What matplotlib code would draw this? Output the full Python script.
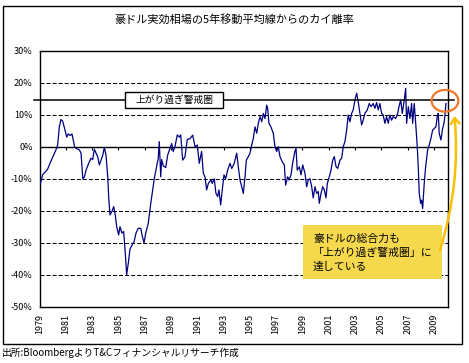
import matplotlib
matplotlib.use("Agg")
import matplotlib.pyplot as plt
from matplotlib.patches import Rectangle, Ellipse, FancyArrowPatch

plt.rcParams['font.family'] = ['Noto Sans CJK JP', 'DejaVu Sans']

# deviation of AUD effective rate from its 5y moving average (%)
dates = [
    1979.04, 1979.24, 1979.62, 1979.87, 1980.25, 1980.38, 1980.51, 1980.63, 1980.76, 1980.89,
    1981.07, 1981.19, 1981.34, 1981.47, 1981.57, 1981.68, 1981.83, 1982.03, 1982.16, 1982.29,
    1982.41, 1982.54, 1982.74, 1982.92, 1983.05, 1983.17, 1983.30, 1983.43, 1983.55, 1983.68,
    1983.81, 1983.93, 1984.06, 1984.19, 1984.26, 1984.36, 1984.51, 1984.64, 1984.76, 1984.87,
    1985.02, 1985.12, 1985.27, 1985.40, 1985.52, 1985.63, 1985.75, 1985.88, 1986.01, 1986.19,
    1986.34, 1986.51, 1986.70, 1986.82, 1986.95, 1987.08, 1987.27, 1987.46, 1987.61, 1987.73,
    1987.91, 1988.03, 1988.11, 1988.22, 1988.29, 1988.41, 1988.60, 1988.75, 1988.92, 1989.05,
    1989.17, 1989.30, 1989.48, 1989.63, 1989.74, 1989.89, 1990.06, 1990.24, 1990.44, 1990.65,
    1990.83, 1991.00, 1991.15, 1991.33, 1991.46, 1991.59, 1991.71, 1991.84, 1992.04, 1992.14,
    1992.29, 1992.42, 1992.55, 1992.65, 1992.78, 1992.90, 1993.03, 1993.16, 1993.31, 1993.49,
    1993.62, 1993.81, 1994.00, 1994.12, 1994.25, 1994.38, 1994.50, 1994.63, 1994.73, 1994.88,
    1995.01, 1995.14, 1995.26, 1995.39, 1995.52, 1995.64, 1995.77, 1995.90, 1996.02, 1996.15,
    1996.28, 1996.35, 1996.45, 1996.60, 1996.78, 1996.91, 1997.04, 1997.16, 1997.29, 1997.46,
    1997.62, 1997.72, 1997.87, 1997.97, 1998.13, 1998.25, 1998.42, 1998.51, 1998.60, 1998.76,
    1998.89, 1999.02, 1999.19, 1999.32, 1999.44, 1999.57, 1999.70, 1999.82, 1999.95, 2000.08,
    2000.20, 2000.28, 2000.41, 2000.54, 2000.66, 2000.79, 2000.89, 2001.04, 2001.17, 2001.30,
    2001.42, 2001.55, 2001.68, 2001.85, 2001.98, 2002.10, 2002.23, 2002.36, 2002.48, 2002.61,
    2002.74, 2002.86, 2002.99, 2003.12, 2003.24, 2003.37, 2003.50, 2003.62, 2003.75, 2003.93,
    2004.08, 2004.21, 2004.38, 2004.51, 2004.64, 2004.76, 2004.89, 2005.02, 2005.14, 2005.27,
    2005.40, 2005.52, 2005.65, 2005.78, 2005.90, 2006.09, 2006.24, 2006.34, 2006.47, 2006.59,
    2006.74, 2006.85, 2006.92, 2007.05, 2007.17, 2007.30, 2007.38, 2007.50, 2007.61, 2007.73,
    2007.81, 2007.88, 2007.99, 2008.06, 2008.14, 2008.26, 2008.37, 2008.52, 2008.64, 2008.77,
    2008.90, 2009.02, 2009.15, 2009.25, 2009.33, 2009.40, 2009.53, 2009.66, 2009.76, 2009.84,
    2009.91,
]
deviation = [
    -11.8, -8.8, -7.0, -4.5, -1.0, 0.5, 6.2, 8.5, 8.0, 6.0,
    3.0, 4.0, 3.5, 4.0, 2.0, -0.2, -0.6, -1.0, -2.0, -10.0,
    -9.5, -7.3, -5.2, -3.6, -4.0, -0.8, -2.0, -3.2, -5.7, -4.2,
    -2.7, -0.2, -2.7, -9.4, -15.6, -21.3, -20.3, -18.7, -21.3, -25.0,
    -27.6, -25.0, -27.0, -26.5, -33.0, -40.0, -36.5, -32.0, -31.0, -29.7,
    -27.0, -25.5, -25.5, -28.0, -30.0, -27.0, -24.0, -17.7, -13.5, -9.9,
    -6.2, -3.6, 1.6, -9.4, -4.0, -6.0, -6.5, -2.6, -0.5, 1.0,
    -1.5, 0.0, 3.7, 3.0, 3.7, -4.2, -3.2, 2.3, 2.5, 3.6,
    0.0, 0.5, -5.2, -1.5, -8.3, -9.5, -13.5, -11.5, -10.4, -11.5,
    -10.0, -14.6, -15.6, -13.5, -18.2, -13.5, -8.8, -10.0, -7.3, -5.2,
    -6.8, -5.2, -2.0, -6.3, -10.4, -12.5, -14.6, -9.4, -4.2, -3.1,
    -2.0, 0.5, 2.6, 6.2, 4.2, 7.3, 9.4, 7.8, 10.4, 8.8,
    13.0, 12.0, 7.3, 6.2, 4.2, 0.0, -1.5, 0.0, -3.1, -4.7,
    -5.7, -12.0, -9.4, -10.4, -8.8, -5.2, -1.5, -0.5, -7.3, -6.3,
    -8.8, -5.7, -8.3, -12.5, -10.4, -10.0, -12.5, -16.0, -12.5, -14.6,
    -14.0, -17.7, -14.6, -12.5, -13.5, -16.0, -11.5, -9.4, -7.3, -4.2,
    -3.1, -6.2, -6.8, -4.2, -3.6, 0.0, 1.6, 5.2, 9.9, 7.8,
    10.4, 11.5, 14.6, 16.7, 14.0, 10.4, 6.8, 8.3, 10.4, 11.5,
    13.5, 12.5, 13.5, 12.0, 13.8, 11.5, 13.5, 10.4, 9.9, 7.3,
    9.4, 7.3, 9.9, 8.3, 9.4, 8.8, 10.4, 12.5, 14.6, 10.4,
    14.6, 18.2, 7.3, 12.5, 8.8, 13.5, 7.3, 13.5, 7.3, 0.0,
    -6.8, -14.6, -17.7, -16.7, -19.3, -11.5, -6.2, -1.0, 0.5, 2.6,
    5.2, 5.7, 6.2, 9.4, 10.4, 4.2, 2.1, 5.7, 7.3, 9.9,
    13.5,
]

tick_years = list(range(1979, 2010, 2))
y_ticks = [-50, -40, -30, -20, -10, 0, 10, 20, 30]
grid_levels = [-40, -30, -20, -10, 10, 20]
warning_level = 14.5

title = '豪ドル実効相場の5年移動平均線からのカイ離率'
warning_label = '上がり過ぎ警戒圏'
note_lines = ['豪ドルの総合力も', '「上がり過ぎ警戒圏」に', '達している']
source = '出所:BloombergよりT&Cフィナンシャルリサーチ作成'

W, H = 469, 363
fig = plt.figure(figsize=(W / 100, H / 100), dpi=100)
ax = fig.add_axes([39.5 / W, 56.3 / H, 408 / W, 256 / H])

# outer chart frame
fig.add_artist(Rectangle((3 / W, 19 / H), 458.7 / W, 338.3 / H, transform=fig.transFigure,
                         fill=False, ec='black', lw=1))

fig.text(234 / W, 1 - 19 / H, title, ha='center', va='center', fontsize=8)
fig.text(2 / W, 1 - 353 / H, source, ha='left', va='center', fontsize=7)

for lv in grid_levels:
    ax.axhline(lv, color='black', lw=0.75, linestyle=(0, (3.9, 1.9)), zorder=1)
ax.axhline(0, color='black', lw=1.0, zorder=2)
ax.vlines(tick_years[1:], -0.9, 0, color='black', lw=0.8, zorder=2)

ax.plot(dates, deviation, color='#000080', lw=0.9, zorder=3)

ax.axhline(warning_level, xmin=-0.0135, xmax=1.016, color='black', lw=1.1,
           clip_on=False, zorder=4)
ax.add_patch(Rectangle((0.2096, 0.775), 0.2409, 0.0648, transform=ax.transAxes,
                       fc='white', ec='black', lw=1, zorder=5))
ax.text(0.33, 0.807, warning_label, transform=ax.transAxes, ha='center', va='center',
        fontsize=7, zorder=6)

ax.set_xlim(1979, 2010.03)
ax.set_ylim(-50, 30)
ax.set_xticks(tick_years)
ax.set_xticklabels([str(y) for y in tick_years], rotation=90, fontsize=6.5)
ax.set_yticks(y_ticks)
ax.set_yticklabels([f'{v}%' for v in y_ticks], fontsize=6.5)
ax.tick_params(axis='both', length=0)
ax.tick_params(axis='y', pad=5)
ax.tick_params(axis='x', pad=5)
for sp in ax.spines.values():
    sp.set_color('black')
    sp.set_linewidth(1)

# callout box
fig.add_artist(Rectangle((302.7 / W, 1 - 279 / H), 139 / W, 54 / H, transform=fig.transFigure,
                         fc='#F5D84C', ec='none', zorder=5))
for i, line in enumerate(note_lines):
    fig.text(313 / W, 1 - (239.3 + 13.7 * i) / H, line, ha='left', va='center',
             fontsize=7.8, zorder=6)

fig.add_artist(Ellipse((445 / W, 1 - 100.8 / H), 26.7 / W, 21.7 / H, transform=fig.transFigure,
                       fill=False, ec='#F07828', lw=1.6, zorder=7))
fig.add_artist(FancyArrowPatch((440 / W, 1 - 250 / H), (454.5 / W, 1 - 116 / H),
                               transform=fig.transFigure, connectionstyle='arc3,rad=0.1',
                               arrowstyle='->,head_width=3,head_length=4',
                               shrinkA=0, shrinkB=0,
                               color='#F8C000', lw=1.8, zorder=7))

fig.savefig('out.png', dpi=100)
